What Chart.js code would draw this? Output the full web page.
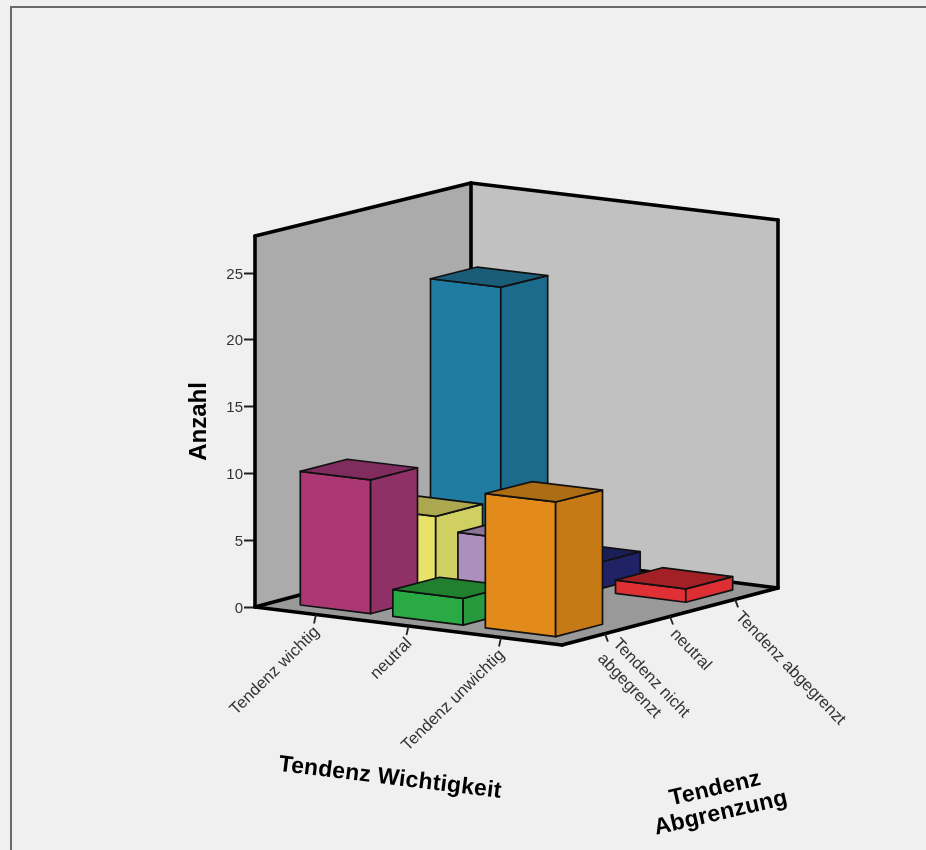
<!DOCTYPE html>
<html>
<head>
<meta charset="utf-8">
<title>Anzahl nach Tendenz</title>
<script src="https://cdn.jsdelivr.net/npm/chart.js@4/dist/chart.umd.js"></script>
<style>
  html, body { margin: 0; background: #f0f0f0; overflow: hidden; }
  #frame { position: absolute; left: 10px; top: 6px; width: 916px; height: 844px;
           border-left: 2px solid #6a6a6a; border-top: 2px solid #6a6a6a; }
  canvas { position: absolute; left: 0; top: 0; }
</style>
</head>
<body>
<div id="frame"></div>
<canvas id="chart" width="926" height="850"></canvas>
<script>
// Kategorien
const tendenzWichtigkeit = ['Tendenz wichtig', 'neutral', 'Tendenz unwichtig'];
const tendenzAbgrenzung = [['Tendenz nicht', 'abgegrenzt'], ['neutral'], ['Tendenz abgegrenzt']];

// Anzahl je Abgrenzung, in der Reihenfolge von tendenzWichtigkeit
const nichtAbgegrenzt = [10, 2, 10];
const neutralAbgrenzung = [6, 5, 0];
const abgegrenzt = [22, 2, 1];

// Farben je Saeule: Vorderseite, Seite, Deckel
const frontColors = [
  ['#ab3875', '#2aaa44', '#e28b1a'],
  ['#e8e26b', '#ad8fbd', '#888888'],
  ['#217ca1', '#1f2569', '#e03035'],
];
const sideColors = [
  ['#8f3066', '#279a3d', '#c67a15'],
  ['#cfcf62', '#9a80a8', '#777777'],
  ['#1b6c8c', '#1f2265', '#dc2f34'],
];
const topColors = [
  ['#812c5e', '#20802f', '#ad6d14'],
  ['#aca850', '#8c7498', '#666666'],
  ['#1a5d78', '#191e56', '#a32024'],
];

// Ecken des Raums auf dem Bildschirm, [u, w] = [Wichtigkeit, Abgrenzung]
const FLOOR = { o: [255, 607], u: [562, 645], w: [471, 549], uw: [778, 588] };
const CEIL = { o: [255, 236], u: [562, 270], w: [471, 183], uw: [778, 220] };
const INSET = 0.048;   // Abstand der Kategorien zu den Waenden
const DEPTH = 0.72;    // Saeulentiefe relativ zu einem Kategorie-Schritt in Abgrenzung

function bilerp(c, u, w) {
  const f = (k) => (1 - u) * (1 - w) * c.o[k] + u * (1 - w) * c.u[k] + (1 - u) * w * c.w[k] + u * w * c.uw[k];
  return [f(0), f(1)];
}

// u, w und h laufen jeweils von 0 bis 1
function project(u, w, h) {
  const uu = INSET + (1 - 2 * INSET) * u;
  const ww = INSET + (1 - 2 * INSET) * w;
  const a = bilerp(FLOOR, uu, ww);
  const b = bilerp(CEIL, uu, ww);
  return [a[0] + (b[0] - a[0]) * h, a[1] + (b[1] - a[1]) * h];
}

function poly(ctx, pts, fill, stroke, lw) {
  ctx.beginPath();
  pts.forEach((p, i) => i ? ctx.lineTo(p[0], p[1]) : ctx.moveTo(p[0], p[1]));
  ctx.closePath();
  if (fill) { ctx.fillStyle = fill; ctx.fill(); }
  if (stroke) { ctx.strokeStyle = stroke; ctx.lineWidth = lw; ctx.lineJoin = 'round'; ctx.stroke(); }
}

// Balken-Controller, der jede Saeule als Quader zeichnet
class Bar3dController extends Chart.BarController {
  draw() {
    const chart = this.chart;
    const ctx = chart.ctx;
    const area = chart.chartArea;
    const meta = this.getMeta();
    const ds = this.getDataset();
    const zScale = chart.scales.abgrenzung;
    const wMid = (zScale.getPixelForValue(this.index) - zScale.left) / zScale.width;
    const wHalf = DEPTH * 0.5 / zScale.ticks.length;
    meta.data.forEach((el, i) => {
      if (!ds.data[i]) return;
      const u0 = (el.x - el.width / 2 - area.left) / area.width;
      const u1 = (el.x + el.width / 2 - area.left) / area.width;
      const w0 = wMid - wHalf;
      const w1 = wMid + wHalf;
      const h = (area.bottom - el.y) / area.height;
      ctx.save();
      poly(ctx, [project(u0, w0, 0), project(u1, w0, 0), project(u1, w0, h), project(u0, w0, h)], ds.frontColors[i], '#111', 1.7);
      poly(ctx, [project(u1, w0, 0), project(u1, w1, 0), project(u1, w1, h), project(u1, w0, h)], ds.sideColors[i], '#111', 1.7);
      poly(ctx, [project(u0, w0, h), project(u1, w0, h), project(u1, w1, h), project(u0, w1, h)], ds.topColors[i], '#111', 1.7);
      ctx.restore();
    });
  }
}
Bar3dController.id = 'bar3d';
Bar3dController.defaults = Chart.BarController.defaults;
Chart.register(Bar3dController);

// Waende und Boden hinter den Saeulen
const roomPlugin = {
  id: 'room',
  beforeDatasetsDraw(chart) {
    const ctx = chart.ctx;
    ctx.save();
    poly(ctx, [FLOOR.o, FLOOR.w, CEIL.w, CEIL.o], '#ababab');
    poly(ctx, [FLOOR.w, FLOOR.uw, CEIL.uw, CEIL.w], '#c1c1c1');
    poly(ctx, [FLOOR.o, FLOOR.u, FLOOR.uw, FLOOR.w], '#999999');
    const edges = [
      [FLOOR.o, CEIL.o], [CEIL.o, CEIL.w], [CEIL.w, CEIL.uw], [CEIL.uw, FLOOR.uw],
      [CEIL.w, FLOOR.w], [FLOOR.o, FLOOR.w], [FLOOR.w, FLOOR.uw],
      [FLOOR.o, FLOOR.u], [FLOOR.u, FLOOR.uw],
    ];
    ctx.strokeStyle = '#000';
    ctx.lineWidth = 3.6;
    ctx.lineCap = 'round';
    edges.forEach(([a, b]) => {
      ctx.beginPath();
      ctx.moveTo(a[0], a[1]);
      ctx.lineTo(b[0], b[1]);
      ctx.stroke();
    });
    ctx.restore();
  },
};

function rotatedText(ctx, lines, x, y, deg, align, font, color, leading, spacing) {
  ctx.save();
  ctx.translate(x, y);
  ctx.rotate(deg * Math.PI / 180);
  ctx.font = font;
  ctx.fillStyle = color;
  ctx.textAlign = align;
  ctx.textBaseline = 'middle';
  ctx.letterSpacing = spacing || '0px';
  const start = -(lines.length - 1) * leading / 2;
  lines.forEach((t, i) => ctx.fillText(t, 0, start + i * leading));
  ctx.restore();
}

// Beschriftung der beiden Bodenachsen
const floorAxesPlugin = {
  id: 'floorAxes',
  afterDatasetsDraw(chart) {
    const ctx = chart.ctx;
    const area = chart.chartArea;
    const xs = chart.scales.x;
    const zs = chart.scales.abgrenzung;
    const labelFont = '16.6px "Liberation Sans"';
    const titleFont = 'bold 23px "Liberation Sans"';
    ctx.save();
    ctx.strokeStyle = '#222';
    ctx.lineWidth = 1.8;

    tendenzWichtigkeit.forEach((label, i) => {
      const u = (xs.getPixelForValue(i) - area.left) / area.width;
      const p = bilerp(FLOOR, INSET + (1 - 2 * INSET) * u, 0);
      ctx.beginPath();
      ctx.moveTo(p[0], p[1]);
      ctx.lineTo(p[0] - 2, p[1] + 9);
      ctx.stroke();
      rotatedText(ctx, [label], p[0] + 1, p[1] + 15, -44.5, 'right', labelFont, '#333', 15);
    });

    tendenzAbgrenzung.forEach((lines, i) => {
      const w = (zs.getPixelForValue(i) - area.left) / area.width;
      const p = bilerp({ o: FLOOR.u, u: FLOOR.uw, w: FLOOR.u, uw: FLOOR.uw }, INSET + (1 - 2 * INSET) * w, 0);
      ctx.beginPath();
      ctx.moveTo(p[0], p[1]);
      ctx.lineTo(p[0] + 3, p[1] + 8);
      ctx.stroke();
      rotatedText(ctx, lines, p[0] + 3, p[1] + 15, 46, 'left', labelFont, '#333', 21);
    });

    rotatedText(ctx, ['Tendenz Wichtigkeit'], 390, 778, 7, 'center', titleFont, '#000', 24, '0.2px');
    rotatedText(ctx, ['Tendenz', 'Abgrenzung'], 718, 801, -13, 'center', titleFont, '#000', 25, '0.2px');
    ctx.restore();
  },
};

const rows = [nichtAbgegrenzt, neutralAbgrenzung, abgegrenzt];

new Chart(document.getElementById('chart'), {
  type: 'bar3d',
  data: {
    labels: tendenzWichtigkeit,
    datasets: rows.map((values, i) => ({
      label: tendenzAbgrenzung[i].join(' '),
      data: values,
      frontColors: frontColors[i],
      sideColors: sideColors[i],
      topColors: topColors[i],
      grouped: false,
      clip: false,
      barPercentage: 0.76,
      categoryPercentage: 1,
    })),
  },
  options: {
    responsive: false,
    animation: false,
    layout: { padding: { left: 185, top: 236, right: 148, bottom: 243 } },
    plugins: { legend: { display: false }, tooltip: { enabled: false } },
    scales: {
      x: { display: false },
      abgrenzung: { type: 'category', axis: 'x', labels: tendenzAbgrenzung.map(l => l.join(' ')), offset: true, display: false },
      y: {
        min: 0,
        max: 27.77,
        afterFit(scale) { scale.width = 70; },
        border: { display: false },
        grid: { drawOnChartArea: false, tickLength: 11, tickWidth: 2, tickColor: '#222' },
        ticks: { stepSize: 5, includeBounds: false, padding: 1, labelOffset: 1.5, color: '#333', font: { family: '"Liberation Sans"', size: 15 } },
        title: { display: true, text: 'Anzahl', color: '#000', padding: 0, font: { family: '"Liberation Sans"', size: 24, weight: 'bold' } },
      },
    },
  },
  plugins: [roomPlugin, floorAxesPlugin],
});
</script>
</body>
</html>
